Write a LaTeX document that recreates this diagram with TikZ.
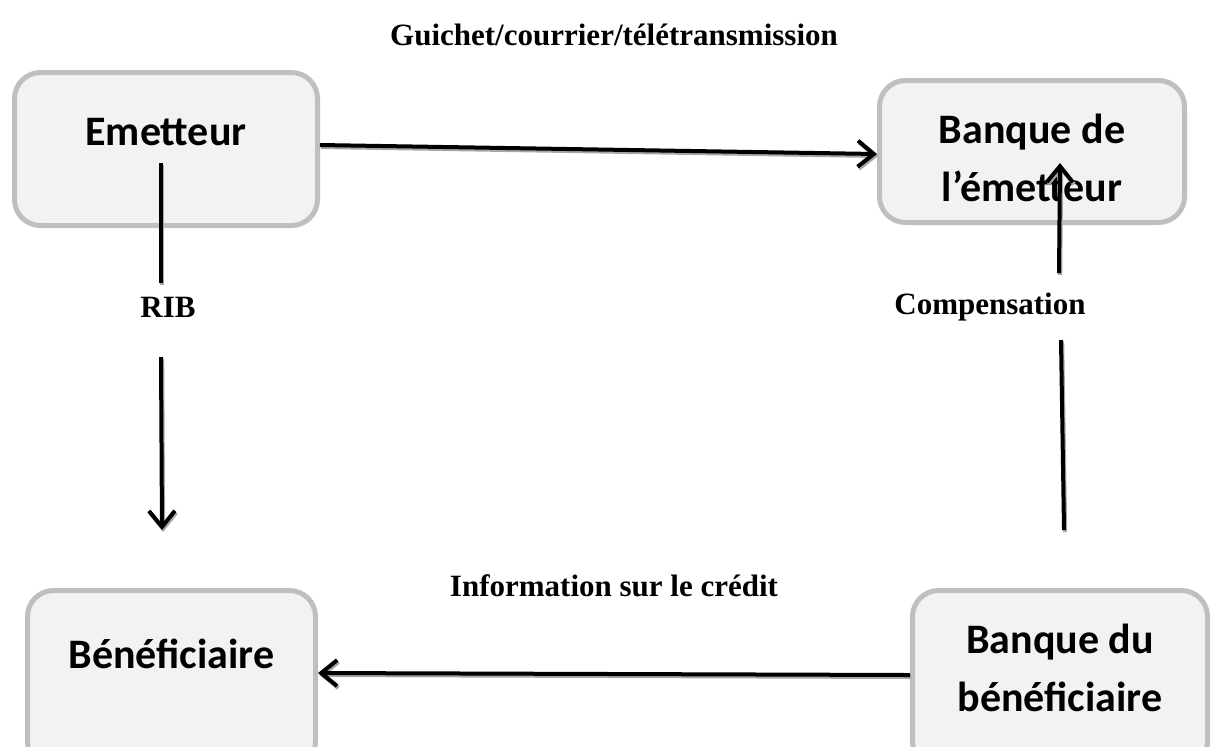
\documentclass[tikz,border=0pt]{standalone}
\usepackage{fontspec}
\newfontfamily\boxfont{Carlito}
\newfontfamily\labfont{Liberation Serif}
\usetikzlibrary{arrows.meta}
\definecolor{BoxFill}{HTML}{F2F2F2}
\definecolor{BoxLine}{HTML}{BFBFBF}

\begin{document}
\begin{tikzpicture}[x=0.5pt, y=-0.5pt]
		\tikzstyle{Box}		= [rectangle, rounded corners=13pt, draw=BoxLine, fill=BoxFill, line width=2.5pt, inner sep=0pt, align=center, font=\boxfont\bfseries\fontsize{21}{29}\selectfont, text height=16pt]
		\tikzstyle{Label}	= [inner sep=0pt, font=\labfont\bfseries\fontsize{15.5}{18}\selectfont]
		\tikzstyle{Link}	= [line width=2pt, black, preaction={draw=black!35, line width=2pt, transform canvas={shift={(0.6pt,-1pt)}}}]
		\tikzstyle{Arrow}	= [Link, -{Straight Barb[length=8pt, width=13pt]}]

		\clip (0,0) rectangle (1213,746);

		\node (em) at (166, 149) [Box, minimum width=151.5pt, minimum height=76.5pt, text depth=19.5pt] {Emetteur};
		\node (be) at (1032, 151.5) [Box, minimum width=152.5pt, minimum height=71pt, text height=50pt, text depth=0pt] {Banque de\\l’émetteur};
		\node (bene) at (171.5, 679) [Box, minimum width=144pt, minimum height=88.5pt, text depth=26.5pt] {Bénéficiaire};
		\node (bdb) at (1060, 679) [Box, minimum width=147.5pt, minimum height=88.5pt, text height=32.5pt, text depth=0pt] {Banque du\\bénéficiaire};

		\node (guichet) at (614, 35) [Label] {Guichet/courrier/télétransmission};
		\node (rib) at (168, 307) [Label] {RIB};
		\node (comp) at (990, 307) [Label] {Compensation};
		\node (info) at (614, 586) [Label] {Information sur le crédit};

		\coordinate (rib-a) at (161, 163);
		\coordinate (rib-b) at (161, 283);
		\coordinate (rib-c) at (161, 357);
		\coordinate (rib-d) at (162, 530);
		\coordinate (comp-a) at (1064, 530);
		\coordinate (comp-b) at (1061, 340);
		\coordinate (comp-c) at (1059, 273);
		\coordinate (comp-d) at (1060, 163);

		\draw [Arrow] ([yshift=2pt]em.east) to ([yshift=-1.25pt]be.west);
		\draw [Link] (rib-a) to (rib-b);
		\draw [Arrow] (rib-c) to (rib-d);
		\draw [Link] (comp-a) to (comp-b);
		\draw [Arrow] (comp-c) to (comp-d);
		\draw [Arrow] ([yshift=2pt]bdb.west) to ([yshift=3pt]bene.east);
	\end{tikzpicture}
\end{document}
